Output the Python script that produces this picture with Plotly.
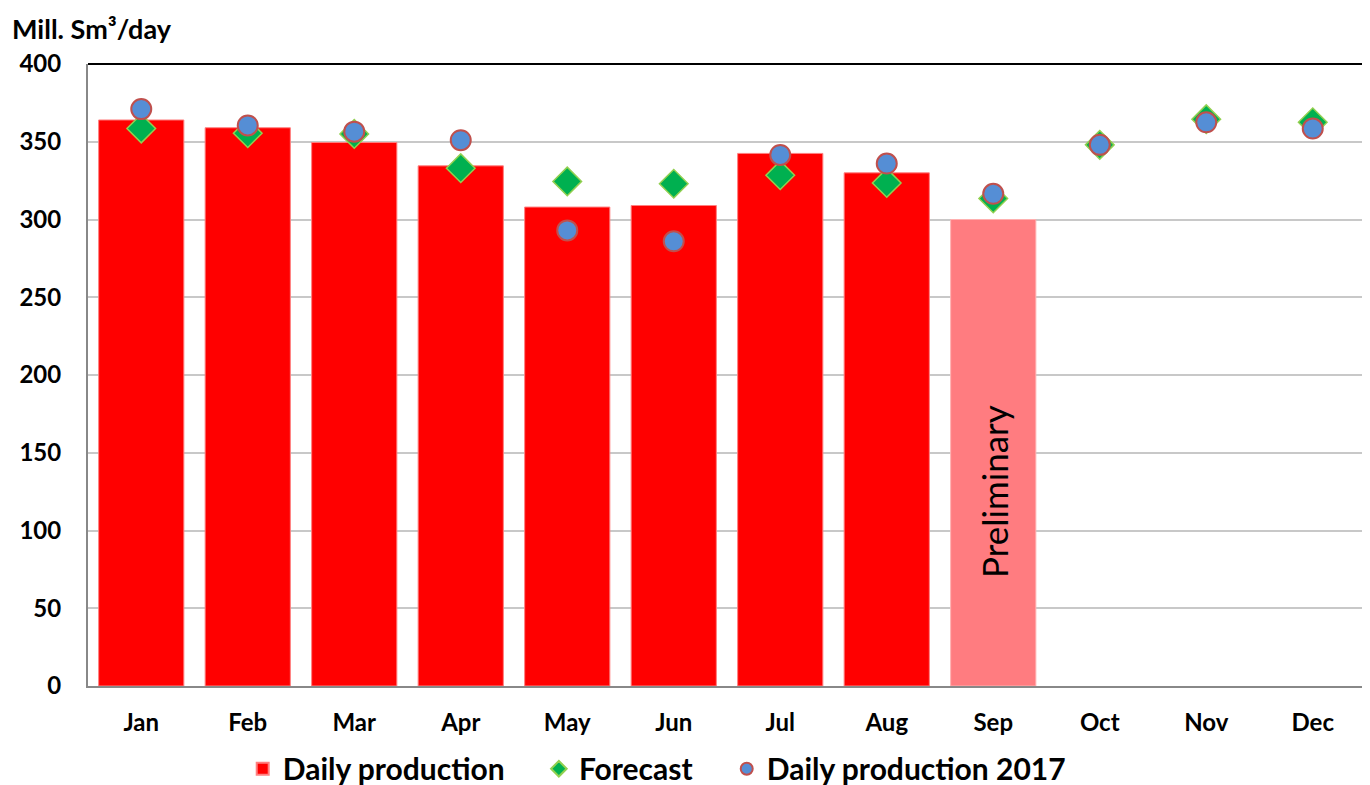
import plotly.graph_objects as go

months = ["Jan", "Feb", "Mar", "Apr", "May", "Jun", "Jul", "Aug", "Sep", "Oct", "Nov", "Dec"]
daily_production = [364, 359, 349.5, 334.5, 308, 309, 342.5, 330, None, None, None, None]
preliminary = [None, None, None, None, None, None, None, None, 300, None, None, None]
forecast = [358.5, 355.5, 355, 333, 324.5, 323, 328.5, 323.5, 313.5, 348, 364.5, 362.5]
production_2017 = [371, 360.5, 356.5, 351, 293, 286, 341.5, 336, 316.5, 348, 362.5, 358.5]
y_ticks = [0, 50, 100, 150, 200, 250, 300, 350, 400]

FONT = "Lato"
PAD = "\u00a0" * 4

fig = go.Figure()
fig.add_trace(go.Bar(
    x=months, y=daily_production, name="Daily production" + PAD,
    marker=dict(color="#FF0000", line=dict(color="#FF8080", width=1)),
))
fig.add_trace(go.Bar(
    x=months, y=preliminary, name="Preliminary", showlegend=False,
    marker=dict(color="#FF7C80", line=dict(color="#FFB0B0", width=1)),
))
fig.add_trace(go.Scatter(
    x=months, y=forecast, name="Forecast" + PAD, mode="markers",
    marker=dict(symbol="diamond", size=22, color="#00B050", line=dict(color="#92D050", width=1.5)),
))
fig.add_trace(go.Scatter(
    x=months, y=production_2017, name="Daily production 2017", mode="markers",
    marker=dict(symbol="circle", size=20, color="#558ED5", line=dict(color="#C0504D", width=2)),
))

fig.add_annotation(
    x="Sep", y=125, text="Preliminary", showarrow=False, textangle=-90,
    font=dict(family=FONT, size=35, color="black"),
)
fig.add_annotation(
    x=0, xref="paper", xanchor="left", xshift=-78, y=1, yref="paper", yanchor="middle", yshift=36,
    text="<b>Mill. Sm³/day</b>", showarrow=False,
    font=dict(family=FONT, size=27, color="black"),
)

fig.update_layout(
    width=1370, height=785,
    margin=dict(l=80, r=12, t=56, b=107, autoexpand=False),
    plot_bgcolor="white", paper_bgcolor="white",
    barmode="overlay", bargap=0.2,
    font=dict(family=FONT, size=24, color="black"),
    legend=dict(
        orientation="h", x=0.445, xanchor="center", y=-0.133, yanchor="middle",
        font=dict(family=FONT, size=30, color="black", weight="bold"),
        itemsizing="constant", traceorder="normal", itemwidth=30,
    ),
    showlegend=True,
)
fig.update_xaxes(
    range=[-0.5, 11.5],
    showgrid=False, showline=True, linecolor="#888888", linewidth=2,
    mirror=False, ticks="", ticklabelstandoff=14,
    tickfont=dict(family=FONT, size=24, weight="bold"),
)
fig.update_yaxes(
    range=[0, 400], tickvals=y_ticks, showgrid=True, gridcolor="#C8C8C8", gridwidth=2,
    showline=True, linecolor="#888888", linewidth=2, ticks="", ticklabelstandoff=20,
    tickfont=dict(family=FONT, size=24, weight="bold"), zeroline=False,
)
# frame top/right
fig.add_shape(type="line", xref="paper", yref="paper", x0=0, x1=1, y0=1, y1=1, line=dict(color="black", width=2))
fig.add_shape(type="line", xref="paper", yref="paper", x0=1, x1=1, y0=0, y1=1, line=dict(color="black", width=2))

fig.write_html("out.html")
